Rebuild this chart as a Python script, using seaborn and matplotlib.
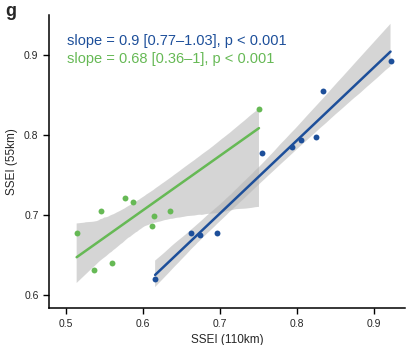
import numpy as np
import pandas as pd
import matplotlib
matplotlib.use("Agg")
import matplotlib.pyplot as plt
import seaborn as sns

# --- data ---
blue_x = [0.616, 0.662, 0.674, 0.696, 0.755, 0.794, 0.806, 0.825, 0.834, 0.922]
blue_y = [0.620, 0.678, 0.675, 0.678, 0.777, 0.785, 0.794, 0.797, 0.855, 0.892]
green_x = [0.514, 0.537, 0.545, 0.560, 0.577, 0.587, 0.612, 0.615, 0.635, 0.751]
green_y = [0.678, 0.632, 0.705, 0.640, 0.721, 0.716, 0.686, 0.699, 0.705, 0.832]
x_ticks = [0.5, 0.6, 0.7, 0.8, 0.9]
y_ticks = [0.6, 0.7, 0.8, 0.9]
labels = ["slope = 0.9 [0.77\u20131.03], p < 0.001",
          "slope = 0.68 [0.36\u20131], p < 0.001"]

blue = "#1d4f9a"
green = "#66b955"

sns.set_theme(style="ticks")
plt.rcParams["font.family"] = ["Liberation Sans", "DejaVu Sans"]

fig = plt.figure(figsize=(4.08, 3.45), dpi=100)
ax = fig.add_axes([0.12, 0.107, 0.873, 0.85])

df_b = pd.DataFrame({"x": blue_x, "y": blue_y})
df_g = pd.DataFrame({"x": green_x, "y": green_y})

sns.regplot(data=df_g, x="x", y="y", ax=ax, color=green, seed=3,
            scatter_kws={"s": 18, "linewidths": 0, "alpha": 1},
            line_kws={"lw": 1.8})
sns.regplot(data=df_b, x="x", y="y", ax=ax, color=blue, seed=3,
            scatter_kws={"s": 18, "linewidths": 0, "alpha": 1},
            line_kws={"lw": 1.8})

# grey confidence bands like the original
for coll in ax.collections:
    if isinstance(coll, matplotlib.collections.PolyCollection):
        coll.set_facecolor("#b4b4b4")
        coll.set_alpha(0.55)
        coll.set_edgecolor("none")
        coll.set_zorder(0.5)

ax.set_xlim(0.478, 0.941)
ax.set_ylim(0.584, 0.95)
ax.set_xticks(x_ticks)
ax.set_xticklabels([str(v) for v in x_ticks])
ax.set_yticks(y_ticks)
ax.set_yticklabels([str(v) for v in y_ticks])
ax.tick_params(labelsize=7.5, length=4, width=1, color="black")
ax.set_xlabel("SSEI (110km)", fontsize=8.5)
ax.set_ylabel("SSEI (55km)", fontsize=8.5)
sns.despine(ax=ax)
for s in ["left", "bottom"]:
    ax.spines[s].set_linewidth(1.1)
    ax.spines[s].set_color("black")

ax.text(0.05, 0.898, labels[0], transform=ax.transAxes, color=blue,
        fontsize=10.5, va="baseline")
ax.text(0.05, 0.836, labels[1], transform=ax.transAxes, color=green,
        fontsize=10.5, va="baseline")
fig.text(0.012, 0.955, "g", fontsize=13, fontweight="bold")

fig.savefig("out.png", dpi=100)
